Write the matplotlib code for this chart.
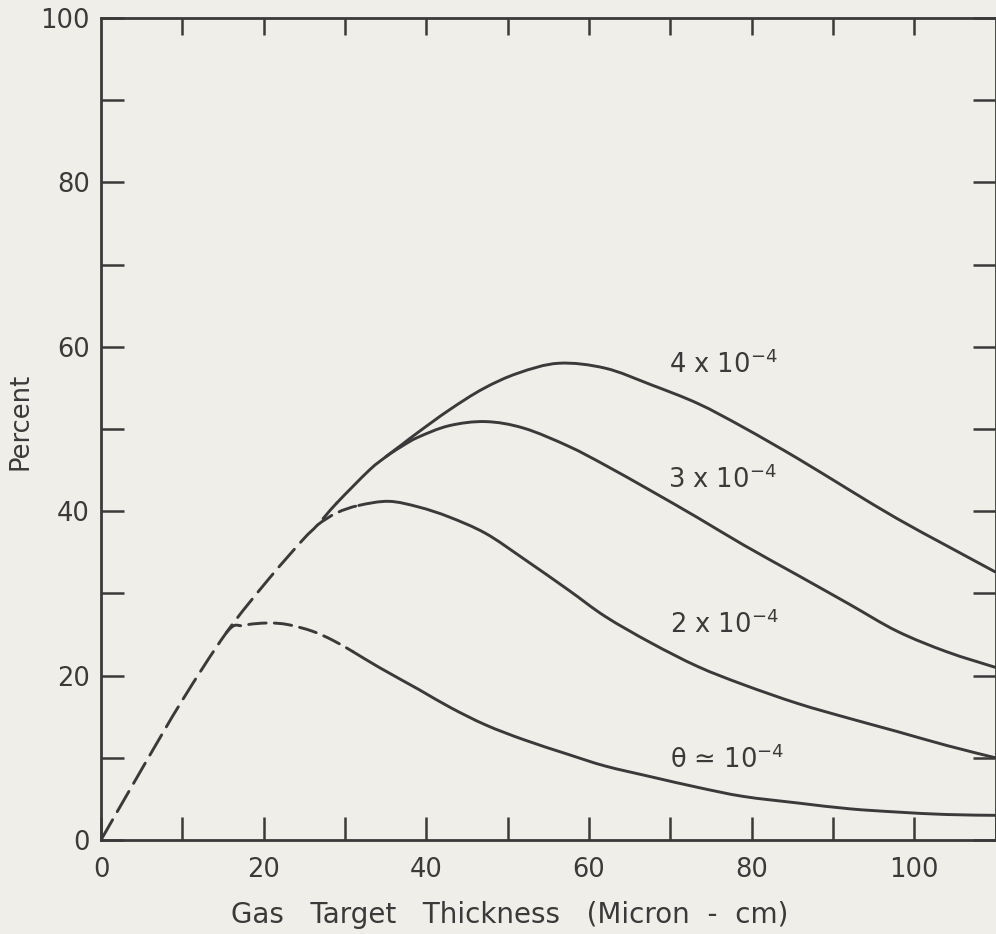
import matplotlib
matplotlib.use("Agg")
import matplotlib.pyplot as plt
from matplotlib.path import Path
from matplotlib.patches import PathPatch

# Common rising branch (dashed), shared by all curves
env_x = [0, 5, 10, 15.4, 20.5, 24.8, 26.6, 29.0]
env_y = [0, 8.6, 17.0, 25.2, 31.6, 36.5, 38.3, 41.0]

# Solid part shared by 3e-4 and 4e-4 before they separate
shared_x = [29.0, 33.0, 35.0]
shared_y = [41.0, 45.0, 46.6]

# theta = 4e-4
t4_x = [35.0, 37.0, 39.0, 42.8, 47.0, 51.3, 56.3, 62.0, 67.6, 73.4, 79.0, 85.7, 92.0, 97.9, 104.0, 110.0]
t4_y = [46.6, 48.1, 49.6, 52.3, 54.9, 56.8, 58.0, 57.4, 55.4, 53.1, 50.2, 46.4, 42.6, 39.1, 35.8, 32.6]

# theta = 3e-4
t3_x = [35.0, 37.0, 39.0, 42.8, 47.3, 52.0, 57.5, 62.0, 67.6, 73.4, 79.0, 85.7, 92.0, 97.9, 104.0, 110.0]
t3_y = [46.6, 47.9, 49.0, 50.4, 50.9, 50.1, 47.9, 45.6, 42.5, 39.2, 35.9, 32.2, 28.7, 25.4, 22.9, 21.0]

# theta = 2e-4 (dashed start, then solid)
t2_dash_x = [26.6, 29.0, 31.7]
t2_dash_y = [38.3, 39.8, 40.7]
t2_x = [31.7, 35.4, 39.1, 42.8, 47.3, 52.0, 57.5, 62.0, 67.6, 73.4, 79.0, 85.7, 92.0, 97.9, 104.0, 110.0]
t2_y = [40.7, 41.2, 40.5, 39.3, 37.3, 34.2, 30.4, 27.2, 24.0, 21.1, 18.9, 16.6, 14.8, 13.2, 11.5, 10.0]

# theta = 1e-4 (dashed start, then solid)
t1_dash_x = [15.4, 17.5, 20.5, 23.0, 26.0, 28.5, 31.0]
t1_dash_y = [25.2, 26.1, 26.4, 26.2, 25.4, 24.3, 22.9]
t1_x = [31.0, 34.2, 39.1, 43.0, 47.3, 52.0, 57.5, 62.0, 67.6, 73.4, 79.0, 85.7, 92.0, 97.9, 104.0, 110.0]
t1_y = [22.9, 21.0, 18.3, 16.1, 14.0, 12.2, 10.4, 9.0, 7.7, 6.4, 5.3, 4.5, 3.8, 3.4, 3.1, 3.0]

curve_labels = [r"4 x 10$^{-4}$", r"3 x 10$^{-4}$", r"2 x 10$^{-4}$", r"θ ≃ 10$^{-4}$"]
label_x = [69.8, 69.7, 70.0, 70.0]
label_y = [56.8, 42.8, 25.2, 8.8]

x_ticks = list(range(0, 111, 10))
x_ticklabels = ["0", "", "20", "", "40", "", "60", "", "80", "", "100", ""]
y_ticks = list(range(0, 101, 10))
y_ticklabels = ["0", "", "20", "", "40", "", "60", "", "80", "", "100"]

BG = "#efeee9"
INK = "#3a3a3a"
FS = 18.5

plt.rcParams["font.family"] = ["DejaVu Sans"]
plt.rcParams["mathtext.fontset"] = "dejavusans"


def join(*parts):
    """Concatenate (xs, ys) pieces, dropping the repeated joint point."""
    px, py = list(parts[0][0]), list(parts[0][1])
    for xs, ys in parts[1:]:
        px += list(xs[1:])
        py += list(ys[1:])
    return px, py


def smooth_path(xs, ys, first, last):
    """Cubic Bezier path through the points, segments first..last-1."""
    n = len(xs)
    pts = list(zip(xs, ys))
    verts = [pts[first]]
    codes = [Path.MOVETO]
    for i in range(first, last):
        p0 = pts[max(i - 1, 0)]
        p1 = pts[i]
        p2 = pts[i + 1]
        p3 = pts[min(i + 2, n - 1)]
        c1 = (p1[0] + (p2[0] - p0[0]) / 6, p1[1] + (p2[1] - p0[1]) / 6)
        c2 = (p2[0] - (p3[0] - p1[0]) / 6, p2[1] - (p3[1] - p1[1]) / 6)
        verts += [c1, c2, p2]
        codes += [Path.CURVE4] * 3
    return Path(verts, codes)


fig = plt.figure(figsize=(9.96, 9.34), dpi=100, facecolor=BG)
ax = fig.add_axes([101 / 996, 94 / 934, 894.5 / 996, 822 / 934])
ax.set_facecolor(BG)
ax.set_xlim(0, 110)
ax.set_ylim(0, 100)

lw = 2.1
long_dash = (0, (8, 3.2))
short_dash = (0, (6, 2.8))


def draw(xs, ys, first, last, style="-"):
    patch = PathPatch(smooth_path(xs, ys, first, last), fill=False, edgecolor=INK,
                      lw=lw, linestyle=style, capstyle="round", joinstyle="round")
    ax.add_patch(patch)


# full curves, each starting at the origin
c4 = join((env_x, env_y), (shared_x, shared_y), (t4_x, t4_y))
c3 = join((env_x, env_y), (shared_x, shared_y), (t3_x, t3_y))
c2 = join((env_x[:7], env_y[:7]), (t2_dash_x, t2_dash_y), (t2_x, t2_y))
c1 = join((env_x[:4], env_y[:4]), (t1_dash_x, t1_dash_y), (t1_x, t1_y))

n_env = len(env_x) - 1
n_shared = n_env + len(shared_x) - 1
draw(*c4, 0, n_env, long_dash)
draw(*c4, n_env, len(c4[0]) - 1)
draw(*c3, n_shared, len(c3[0]) - 1)

b2 = 6
d2 = b2 + len(t2_dash_x) - 1
draw(*c2, b2, d2, short_dash)
draw(*c2, d2, len(c2[0]) - 1)

b1 = 3
d1 = b1 + len(t1_dash_x) - 1
draw(*c1, b1, d1, short_dash)
draw(*c1, d1, len(c1[0]) - 1)

for txt, lx, ly in zip(curve_labels, label_x, label_y):
    ax.text(lx, ly, txt, fontsize=FS, color=INK, ha="left", va="baseline")

for side in ("left", "right", "top", "bottom"):
    ax.spines[side].set_color(INK)
    ax.spines[side].set_linewidth(2.0)

ax.set_xticks(x_ticks)
ax.set_xticklabels(x_ticklabels)
ax.set_yticks(y_ticks)
ax.set_yticklabels(y_ticklabels)
ax.tick_params(axis="both", direction="in", length=16.5, width=1.8, color=INK,
               labelsize=FS, labelcolor=INK)
ax.tick_params(axis="x", pad=12, bottom=True, top=False)
ax.tick_params(axis="y", pad=8, left=True, right=True)

# shorter ticks along the top edge
top = ax.secondary_xaxis("top")
top.set_xticks(x_ticks[1:-1])
top.set_xticklabels([])
top.tick_params(direction="in", length=12, width=1.8, color=INK)
top.spines["top"].set_visible(False)

fig.text(510 / 996, 11 / 934, "Gas   Target   Thickness   (Micron  -  cm)", fontsize=20,
         color=INK, ha="center", va="baseline")
fig.text(20 / 996, 513 / 934, "Percent", fontsize=FS, color=INK, rotation=90,
         ha="center", va="center")

fig.savefig("out.png", dpi=100, facecolor=BG)
